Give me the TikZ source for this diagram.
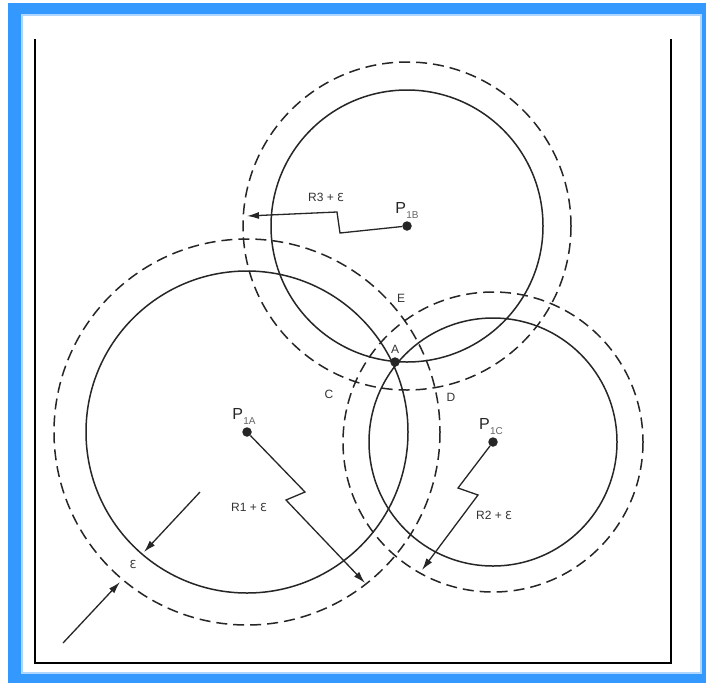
\documentclass[tikz,border=0pt]{standalone}
\usepackage{fontspec}
\setmainfont{Liberation Sans}
\newfontfamily\epsfont{DejaVu Sans}
\usetikzlibrary{arrows.meta,positioning}
\definecolor{frameblue}{RGB}{51,153,255}
\definecolor{edgeblue}{RGB}{175,214,255}
\newcommand{\psub}[1]{P\kern0.3pt\raisebox{-5pt}{\fontsize{10}{10}\selectfont\color{black!60}#1}}
\newcommand{\eps}{{\epsfont\fontsize{11}{12}\selectfont Ɛ}}
\tikzset{
  ring/.style={draw=black!85, line width=1.5pt},
  band/.style={draw=black!85, line width=1.5pt, dash pattern=on 11pt off 6pt},
  dot/.style={circle, fill=black!85, inner sep=0pt, minimum size=9.5pt},
  tag/.style={font=\fontsize{12}{12}\selectfont, text=black!80, inner sep=1pt},
  ptag/.style={font=\fontsize{16}{16}\selectfont, text=black!85, inner sep=1pt},
  line/.style={-{Latex[length=12pt,width=7pt]}, line width=1.3pt, draw=black!85}
}

\begin{document}
\begin{tikzpicture}[x=1pt, y=-1pt]
        \useasboundingbox (0,0) rectangle (706,683);
        \fill[white] (0,0) rectangle (706,683);
        \fill[frameblue] (8,3) rectangle (706,683);
        \filldraw[fill=white, draw=edgeblue, line width=1.5pt] (22,15) rectangle (701,673);
        \draw[line width=2pt] (35,39) -- (35,663) -- (671,663) -- (671,39);

        \node[dot] (pa) at (247,432) {};
        \node[dot] (pb) at (407,226) {};
        \node[dot] (pc) at (493,442) {};
        \node[dot] (a) at (395,362) {};

        \draw[ring] (pa.center) circle[radius=161];
        \draw[band] (pa.center) circle[radius=193];
        \draw[ring] (pb.center) circle[radius=136];
        \draw[band] (pb.center) circle[radius=164];
        \draw[ring] (pc.center) circle[radius=124];
        \draw[band] (pc.center) circle[radius=150];

        \node[ptag, above=1pt of pa, xshift=-3pt] (la) {\psub{1A}};
        \node[ptag, above=1pt of pb] (lb) {\psub{1B}};
        \node[ptag, above=1pt of pc, xshift=-2pt] (lc) {\psub{1C}};
        \node[tag, above=2pt of a] (la2) {A};
        \node[tag] (e) at (401,298) {E};
        \node[tag] (c) at (329,394) {C};
        \node[tag] (d) at (451,397) {D};

        \coordinate (ta) at (365,583);
        \coordinate (tb) at (247,216);
        \coordinate (tc) at (422,570);
        \draw[line] (pa) -- (305,492) -- (286,500) -- (ta);
        \draw[line] (pb) -- (340,233) -- (337,212) -- (tb);
        \draw[line] (pc) -- (458,488) -- (478,495) -- (tc);
        \node[tag] (r1) at (249,507) {R1 + \eps};
        \node[tag] (r3) at (326,197) {R3 + \eps};
        \node[tag] (r2) at (494,515) {R2 + \eps};

        \coordinate (ei) at (200,492);
        \coordinate (eit) at (144,552);
        \coordinate (eo) at (63,643);
        \coordinate (eot) at (120,582);
        \draw[line] (ei) -- (eit);
        \draw[line] (eo) -- (eot);
        \node[tag] (eps) at (133,564) {\eps};
      \end{tikzpicture}
\end{document}
